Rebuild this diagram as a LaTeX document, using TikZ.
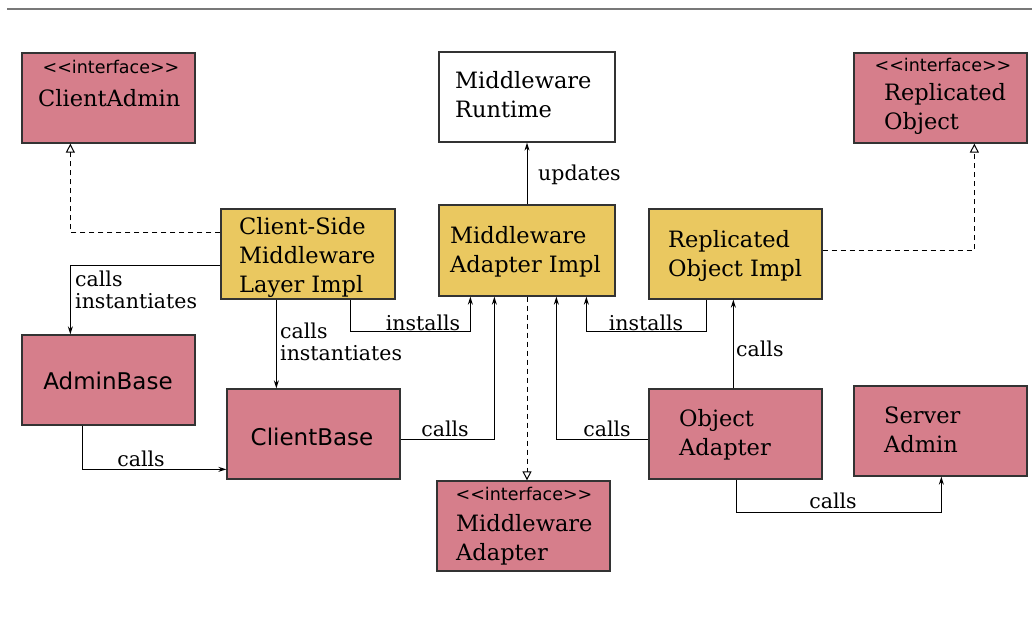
\documentclass[tikz,border=0pt]{standalone}
\usepackage{fontspec}
\setmainfont{DejaVu Serif}
\setsansfont{DejaVu Sans}
\usetikzlibrary{arrows.meta}
\definecolor{pinkc}{RGB}{214,126,139}
\definecolor{yellc}{RGB}{234,200,96}
\definecolor{edgec}{RGB}{51,51,51}
\definecolor{rulec}{RGB}{120,120,120}
\newcommand{\ifc}{{<}{<}interface{>}{>}}
\tikzset{
 box/.style={draw=edgec, line width=1.3pt, minimum width=173pt, minimum height=90pt, inner sep=0pt},
 pinkbox/.style={box, fill=pinkc},
 yellbox/.style={box, fill=yellc},
 whitebox/.style={box, fill=white},
 btext/.style={anchor=west, align=left, inner sep=0pt, font=\fontsize{22.5}{29}\selectfont},
 stext/.style={inner sep=0pt, font=\sffamily\fontsize{23}{27}\selectfont},
 itext/.style={inner sep=0pt, font=\sffamily\fontsize{17.5}{20}\selectfont},
 lbl/.style={inner sep=0pt, align=left, font=\fontsize{20.5}{22}\selectfont},
 conn/.style={line width=1pt, draw=black, -{Stealth[length=8pt,width=5pt]}},
 realz/.style={line width=1pt, draw=black, dash pattern=on 5pt off 4pt, -{Triangle[open,length=9pt,width=9pt]}},
}
\begin{document}
\begin{tikzpicture}[x=1pt,y=-1pt]
\useasboundingbox (0,0) rectangle (1032,644);
\draw[rulec, line width=2pt] (7,9) -- (1032,9);
% boxes
\node[pinkbox] (ca) at (108.5,98) {};
\node[whitebox, minimum width=176pt] (mr) at (527,97) {};
\node[pinkbox] (ro) at (940.5,98) {};
\node[yellbox, minimum width=174pt] (cs) at (308,254) {};
\node[yellbox, minimum width=176pt, minimum height=91pt] (mai) at (527,250.5) {};
\node[yellbox] (roi) at (735.5,254) {};
\node[pinkbox] (ab) at (108.5,380) {};
\node[pinkbox] (cb) at (313.5,434) {};
\node[pinkbox] (oa) at (735.5,434) {};
\node[pinkbox] (sa) at (940.5,431) {};
\node[pinkbox] (mad) at (523.5,526) {};
% texts
\node[itext] (cai) at (111,67) {\ifc};
\node[btext] (cat) at (38,98.5) {ClientAdmin};
\node[btext] (mrt) at (455,95) {Middleware\\Runtime};
\node[itext] (roii) at (943,65) {\ifc};
\node[btext] (rot) at (884,109) {Replicated\\Object};
\node[btext] (cst) at (239,257) {Client-Side\\Middleware\\Layer Impl};
\node[btext] (mait) at (450,252) {Middleware\\Adapter Impl};
\node[btext] (roit) at (668,256) {Replicated\\Object Impl};
\node[stext] (abt) at (108,381) {AdminBase};
\node[stext] (cbt) at (312,437) {ClientBase};
\node[btext] (oat) at (679,434.5) {Object\\Adapter};
\node[btext] (sat) at (884,429.5) {Server\\Admin};
\node[itext] (madi) at (524,494) {\ifc};
\node[btext] (madt) at (456,539.5) {Middleware\\Adapter};
% connectors
\draw[realz] ([yshift=-24pt]cs.north west) -| ([xshift=49pt]ca.south west);
\draw[conn] ([yshift=-57pt]cs.north west) -| ([xshift=49pt]ab.north west);
\node[lbl, anchor=west] (l1) at (75,290) {calls\\instantiates};
\draw[conn] ([xshift=56pt]cs.south west) -- ([xshift=56pt]cs.south west |- cb.north);
\node[lbl, anchor=west] (l2) at (280,342) {calls\\instantiates};
\draw[conn] ([xshift=130pt]cs.south west) -- ++(0,32) -| ([xshift=32pt]mai.south west);
\node[lbl] (l3) at (423,323) {installs};
\draw[conn] ([yshift=-5pt]cb.east) -| ([xshift=56pt]mai.south west);
\node[lbl] (l4) at (445,429) {calls};
\draw[conn] ([xshift=61pt]ab.south west) |- ([yshift=-81pt]cb.north west);
\node[lbl] (l5) at (141,459) {calls};
\draw[conn] (mai.north) -- (mr.south);
\node[lbl, anchor=west] (l6) at (538,175) {updates};
\draw[realz] (mai.south) -- (mai.south |- mad.north);
\draw[conn] ([yshift=-5pt]oa.west) -| ([xshift=118pt]mai.south west);
\node[lbl] (l7) at (607,429) {calls};
\draw[conn] ([xshift=58pt]roi.south west) -- ++(0,32) -| ([xshift=148pt]mai.south west);
\node[lbl] (l8) at (646,323) {installs};
\draw[conn] ([xshift=85pt]oa.north west) -- ([xshift=85pt]oa.north west |- roi.south);
\node[lbl, anchor=west] (l9) at (736,349) {calls};
\draw[realz] ([yshift=-42pt]roi.north east) -| ([xshift=121pt]ro.south west);
\draw[conn] ([xshift=88pt]oa.south west) -- ++(0,33) -| ([xshift=88pt]sa.south west);
\node[lbl] (l10) at (833,501) {calls};
\end{tikzpicture}
\end{document}
